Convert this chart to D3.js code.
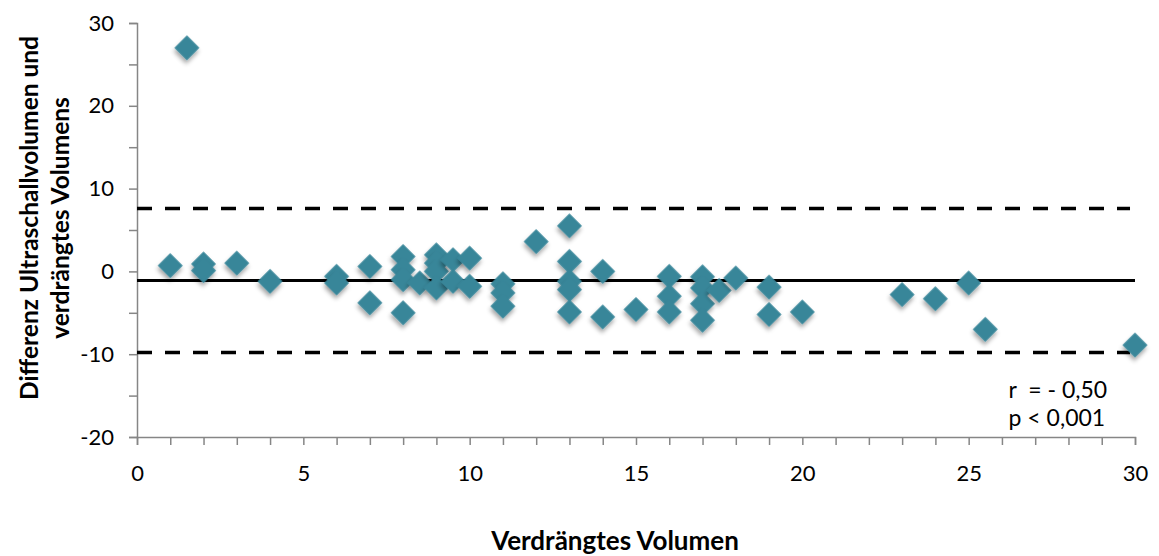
<!DOCTYPE html>
<html>
<head>
<meta charset="utf-8">
<script src="https://cdn.jsdelivr.net/npm/d3@7"></script>
<style>
  body { margin: 0; background: #fff; }
  text { font-family: Lato, "Open Sans", sans-serif; }
</style>
</head>
<body>
<svg width="1159" height="556"></svg>
<script>
// measured points (Verdraengtes Volumen, Differenz)
var xVals = [1.5, 1, 2, 2, 3, 4, 6, 6, 7, 7, 8, 8, 8, 8, 8.5, 9, 9, 9, 9, 9.5, 9.5, 10, 10,
  11, 11, 11, 12, 13, 13, 13, 13, 13, 14, 14, 15, 16, 16, 16, 17, 17, 17, 17, 17.5, 18,
  19, 19, 20, 23, 24, 25, 25.5, 30];
var yVals = [27, 0.7, 0.9, 0.1, 1.0, -1.2, -0.6, -1.4, 0.6, -3.8, 1.8, 0.2, -1.0, -5.0, -1.4, 2.0, 1.0, 0.0, -2.0, 1.4, -1.2, 1.6, -1.8,
  -1.5, -2.6, -4.2, 3.6, 5.5, 1.2, -1.2, -2.2, -4.9, 0.0, -5.5, -4.6, -0.6, -3.0, -4.9, -0.65, -2.0, -3.9, -5.9, -2.3, -0.8,
  -1.9, -5.2, -4.9, -2.8, -3.3, -1.4, -7.0, -8.9];

var meanDiff = -1.1;
var limits = [7.6, -9.8];
var xTicks = [0, 5, 10, 15, 20, 25, 30];
var yTicks = [-20, -10, 0, 10, 20, 30];

var svg = d3.select("svg"),
margin = {top: 23, right: 24, bottom: 119, left: 137},
width = +svg.attr("width") - margin.left - margin.right,
height = +svg.attr("height") - margin.top - margin.bottom;

var defs = svg.append("defs");
defs.append("filter")
    .attr("id", "shadow")
    .attr("x", "-50%").attr("y", "-50%")
    .attr("width", "200%").attr("height", "200%")
  .append("feDropShadow")
    .attr("dx", 2).attr("dy", 3)
    .attr("stdDeviation", 2)
    .attr("flood-color", "#000")
    .attr("flood-opacity", 0.35);

var g = svg.append("g").attr("transform", "translate(" + margin.left + "," + margin.top + ")");

var x = d3.scaleLinear().domain([0, 30]).range([0, width]);
var y = d3.scaleLinear().domain([-20, 30]).range([height, 0]);

// x axis: tick every unit, label every 5
var xAxis = g.append("g")
    .attr("transform", "translate(0," + height + ")")
    .call(d3.axisBottom(x).tickValues(d3.range(0, 31, 1)).tickSize(8).tickFormat(function(d) {
      return xTicks.indexOf(d) >= 0 ? d : "";
    }));
xAxis.select(".domain").attr("stroke", "#868686").attr("stroke-width", 1.5);
xAxis.selectAll(".tick line").attr("stroke", "#868686").attr("stroke-width", 1.5);
xAxis.selectAll(".tick text")
    .attr("y", 28.5)
    .attr("font-size", 22)
    .attr("fill", "#000");

// y axis: tick every 5, label every 10
var yAxis = g.append("g")
    .call(d3.axisLeft(y).tickValues(d3.range(-20, 31, 5)).tickSize(8).tickFormat(function(d) {
      return yTicks.indexOf(d) >= 0 ? d : "";
    }));
yAxis.select(".domain").attr("stroke", "#868686").attr("stroke-width", 1.5);
yAxis.selectAll(".tick line").attr("stroke", "#868686").attr("stroke-width", 1.5);
yAxis.selectAll(".tick text")
    .attr("x", -23)
    .attr("font-size", 22)
    .attr("fill", "#000");

// mean and limits of agreement
g.append("line")
    .attr("x1", x(0)).attr("x2", x(30))
    .attr("y1", y(meanDiff)).attr("y2", y(meanDiff))
    .attr("stroke", "#000").attr("stroke-width", 3);

g.selectAll(".limit")
    .data(limits)
    .enter().append("line")
    .attr("class", "limit")
    .attr("x1", x(0)).attr("x2", x(29.85))
    .attr("y1", function(d) { return y(d); })
    .attr("y2", function(d) { return y(d); })
    .attr("stroke", "#000").attr("stroke-width", 3.5)
    .attr("stroke-dasharray", "15,13");

// diamonds
var diamond = d3.symbol().type(d3.symbolSquare).size(310);
g.selectAll(".pt")
    .data(xVals)
    .enter().append("path")
    .attr("class", "pt")
    .attr("d", diamond)
    .attr("transform", function(d, i) {
      return "translate(" + x(d) + "," + y(yVals[i]) + ") rotate(45)";
    })
    .attr("fill", "#378699")
    .attr("filter", "url(#shadow)");

// statistics
g.append("text")
    .attr("x", x(26.2)).attr("y", y(-15.3))
    .attr("font-size", 23)
    .attr("xml:space", "preserve")
    .text("r  = - 0,50");
g.append("text")
    .attr("x", x(26.2)).attr("y", y(-18.7))
    .attr("font-size", 23)
    .text("p < 0,001");

// axis titles
svg.append("text")
    .attr("x", 615)
    .attr("y", 550)
    .attr("text-anchor", "middle")
    .attr("font-size", 26)
    .attr("font-weight", "bold")
    .text("Verdrängtes Volumen");

var yTitle = svg.append("text")
    .attr("transform", "translate(0," + 218 + ") rotate(-90)")
    .attr("text-anchor", "middle")
    .attr("font-size", 24.5)
    .attr("font-weight", "bold");
yTitle.append("tspan").attr("x", 0).attr("y", 38).text("Differenz Ultraschallvolumen und");
yTitle.append("tspan").attr("x", 0).attr("y", 69).text("verdrängtes Volumens");
</script>
</body>
</html>
